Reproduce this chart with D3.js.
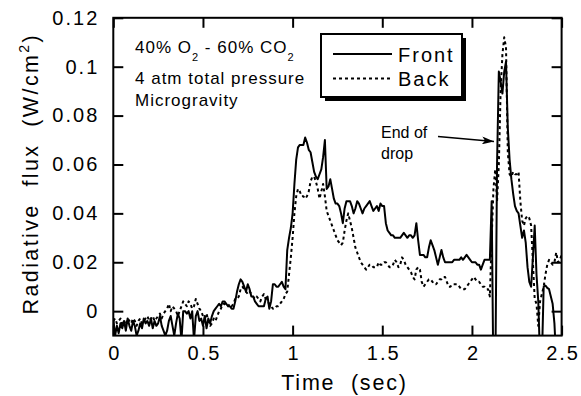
<!DOCTYPE html>
<html>
<head>
<meta charset="utf-8">
<script src="https://cdn.jsdelivr.net/npm/d3@7"></script>
<style>
  body { margin: 0; background: #fff; }
  svg text { font-family: "Liberation Sans", Arial, Helvetica, sans-serif; fill: #000; }
</style>
</head>
<body>
<div id="chart"></div>
<script>
// sampling grid of the recorded signals (sec)
const t0 = 0, dt = 0.01;

// radiative flux, W/cm2, one value per 0.01 s from 0 to 2.5 s
const front = [
  -0.003,-0.010,-0.006,-0.009,-0.005,-0.007,-0.004,-0.008,-0.003,-0.006,
  -0.008,-0.004,-0.006,-0.010,-0.008,-0.005,-0.007,-0.003,-0.005,-0.004,
  -0.006,-0.003,-0.007,-0.004,-0.006,-0.005,-0.002,-0.006,-0.008,-0.010,
  -0.008,-0.004,-0.002,-0.006,-0.010,-0.005,-0.001,-0.003,-0.012,0.000,
  0.000,-0.001,0.000,-0.003,0.000,-0.012,-0.002,0.000,-0.004,-0.003,
  -0.006,-0.002,-0.007,-0.003,-0.005,-0.002,0.000,0.001,0.002,0.003,
  0.002,0.004,0.004,0.003,0.002,0.002,0.001,0.001,0.004,0.008,
  0.011,0.013,0.012,0.010,0.008,0.011,0.009,0.006,0.006,0.004,
  0.003,0.002,0.002,0.002,0.002,0.005,0.006,0.001,0.004,0.011,
  0.011,0.010,0.010,0.011,0.012,0.010,0.009,0.025,0.030,0.034,
  0.040,0.052,0.062,0.067,0.068,0.068,0.068,0.071,0.069,0.066,
  0.065,0.061,0.057,0.055,0.054,0.056,0.058,0.063,0.070,0.050,
  0.051,0.054,0.050,0.046,0.044,0.044,0.043,0.040,0.036,0.042,
  0.045,0.045,0.045,0.043,0.040,0.042,0.045,0.044,0.042,0.040,
  0.042,0.043,0.044,0.045,0.043,0.041,0.042,0.043,0.041,0.044,
  0.043,0.043,0.036,0.033,0.032,0.031,0.031,0.030,0.030,0.030,
  0.030,0.031,0.032,0.031,0.030,0.031,0.031,0.030,0.031,0.036,
  0.029,0.023,0.023,0.023,0.022,0.022,0.026,0.029,0.027,0.025,
  0.022,0.019,0.022,0.025,0.022,0.020,0.020,0.020,0.020,0.020,
  0.021,0.021,0.021,0.021,0.022,0.021,0.022,0.023,0.022,0.021,
  0.020,0.020,0.020,0.019,0.019,0.017,0.019,0.021,0.021,0.021,
  0.021,0.045,-0.030,-0.030,0.060,0.098,0.094,0.089,0.098,0.102,
  0.075,0.062,0.054,0.048,0.043,0.041,0.040,0.035,0.030,0.033,
  0.028,0.018,0.012,0.010,0.022,0.035,0.015,0.004,-0.020,-0.020,
  0.010,0.0105,0.0095,0.009,0.006,0.003,-0.005,-0.020,-0.020,-0.020,-0.020
];
const back = [
  -0.004,-0.003,-0.005,-0.004,-0.003,-0.006,-0.004,-0.005,-0.003,-0.004,
  -0.005,-0.003,-0.004,-0.006,-0.004,-0.003,-0.005,-0.004,-0.003,-0.002,
  -0.004,-0.003,-0.002,-0.004,-0.003,-0.002,-0.001,-0.003,-0.001,0.000,
  0.001,0.003,0.000,0.002,0.001,0.000,-0.002,0.000,0.002,0.004,
  0.003,0.002,0.004,0.003,0.001,0.002,0.005,0.003,0.001,0.000,
  -0.002,-0.003,-0.001,-0.004,-0.006,-0.005,-0.003,-0.004,-0.002,0.000,
  0.001,0.003,0.003,0.002,0.002,0.003,0.002,0.003,0.005,0.005,
  0.006,0.009,0.010,0.009,0.008,0.007,0.008,0.007,0.006,0.005,
  0.006,0.005,0.004,0.006,0.007,0.005,0.004,0.003,0.002,0.001,
  0.001,0.002,0.002,0.003,0.004,0.005,0.007,0.008,0.015,0.022,
  0.030,0.040,0.047,0.050,0.049,0.047,0.047,0.046,0.047,0.049,
  0.053,0.055,0.055,0.053,0.050,0.046,0.049,0.052,0.047,0.041,
  0.039,0.037,0.035,0.033,0.031,0.029,0.028,0.027,0.028,0.033,
  0.037,0.040,0.037,0.034,0.030,0.026,0.024,0.022,0.020,0.019,
  0.018,0.017,0.018,0.019,0.019,0.018,0.018,0.018,0.020,0.019,
  0.019,0.020,0.020,0.019,0.018,0.018,0.019,0.021,0.020,0.018,
  0.019,0.022,0.021,0.019,0.018,0.017,0.016,0.014,0.013,0.017,
  0.018,0.017,0.012,0.010,0.011,0.012,0.013,0.013,0.012,0.011,
  0.011,0.012,0.013,0.013,0.014,0.014,0.012,0.010,0.010,0.011,
  0.011,0.011,0.011,0.010,0.009,0.009,0.009,0.010,0.011,0.012,
  0.013,0.014,0.013,0.012,0.012,0.011,0.010,0.010,0.009,0.009,
  0.006,0.030,0.050,0.058,0.045,0.060,0.090,0.105,0.112,0.108,
  0.065,0.056,0.055,0.057,0.056,0.056,0.057,0.045,0.037,0.035,
  0.038,0.039,0.038,0.035,0.020,0.005,0.003,-0.006,0.004,0.007,
  0.010,0.015,0.019,0.021,0.020,0.019,0.020,0.024,0.020,0.021,0.023
];

const seriesNames = ["Front", "Back"];
const xTicks = [0, 0.5, 1, 1.5, 2, 2.5];
const xTickLabels = ["0", "0.5", "1", "1.5", "2", "2.5"];
const yTicks = [0, 0.02, 0.04, 0.06, 0.08, 0.1, 0.12];
const yTickLabels = ["0", "0.02", "0.04", "0.06", "0.08", "0.1", "0.12"];

const width = 581, height = 396;
const plotLeft = 113.3, plotRight = 561.6, plotTop = 17.8, plotBottom = 335.6;

const x = d3.scaleLinear().domain([0, 2.5]).range([plotLeft, plotRight]);
const y = d3.scaleLinear().domain([-0.01, 0.12]).range([plotBottom, plotTop]);

const svg = d3.select("#chart").append("svg")
  .attr("width", width)
  .attr("height", height)
  .attr("viewBox", [0, 0, width, height]);

svg.append("clipPath").attr("id", "plot-clip")
  .append("rect")
  .attr("x", plotLeft).attr("y", plotTop)
  .attr("width", plotRight - plotLeft).attr("height", plotBottom - plotTop);

// lines
const line = d3.line()
  .x((d, i) => x(t0 + i * dt))
  .y((d) => y(d));

const lines = svg.append("g")
  .attr("clip-path", "url(#plot-clip)")
  .attr("fill", "none")
  .attr("stroke", "#000")
  .attr("stroke-linejoin", "round");

lines.append("path")
  .attr("d", line(back))
  .attr("stroke-width", 2)
  .attr("stroke-dasharray", "3,3");

lines.append("path")
  .attr("d", line(front))
  .attr("stroke-width", 2);

// axes, ticks pointing inward on all four sides
const tickStyle = (g) => {
  g.select(".domain").remove();
  g.selectAll(".tick line").attr("stroke", "#000").attr("stroke-width", 2);
  g.selectAll(".tick text")
    .attr("font-size", 20)
    .attr("letter-spacing", 2)
    .attr("fill", "#000");
};

svg.append("g")
  .attr("transform", `translate(0,${plotBottom})`)
  .call(d3.axisBottom(x).tickValues(xTicks)
    .tickFormat((d, i) => xTickLabels[i]).tickSize(-10).tickPadding(10))
  .call(tickStyle)
  .call((g) => g.selectAll(".tick text").attr("dx", 1));

svg.append("g")
  .attr("transform", `translate(0,${plotTop})`)
  .call(d3.axisTop(x).tickValues(xTicks).tickFormat("").tickSize(-10))
  .call(tickStyle);

svg.append("g")
  .attr("transform", `translate(${plotLeft},0)`)
  .call(d3.axisLeft(y).tickValues(yTicks)
    .tickFormat((d, i) => yTickLabels[i]).tickSize(-10).tickPadding(14))
  .call(tickStyle);

svg.append("g")
  .attr("transform", `translate(${plotRight},0)`)
  .call(d3.axisRight(y).tickValues(yTicks).tickFormat("").tickSize(-10))
  .call(tickStyle);

svg.append("rect")
  .attr("x", plotLeft).attr("y", plotTop)
  .attr("width", plotRight - plotLeft).attr("height", plotBottom - plotTop)
  .attr("fill", "none")
  .attr("stroke", "#000")
  .attr("stroke-width", 2);

// axis titles
svg.append("text")
  .attr("x", (plotLeft + plotRight) / 2 + 7)
  .attr("y", 390)
  .attr("text-anchor", "middle")
  .attr("font-size", 21.5)
  .attr("letter-spacing", 1.8)
  .style("white-space", "pre")
  .text("Time  (sec)");

const yTitle = svg.append("text")
  .attr("transform", `translate(38,${(plotTop + plotBottom) / 2 - 3}) rotate(-90)`)
  .attr("text-anchor", "middle")
  .attr("font-size", 21.5)
  .attr("letter-spacing", 2.4)
  .style("white-space", "pre");
yTitle.append("tspan").text("Radiative  flux  (W/cm");
yTitle.append("tspan").attr("font-size", 14).attr("dy", -9).text("2");
yTitle.append("tspan").attr("dy", 9).text(")");

// conditions note
const note = svg.append("g").attr("font-size", 17);
const n1 = note.append("text").attr("x", 135).attr("y", 53).attr("letter-spacing", 1);
n1.append("tspan").text("40% O");
n1.append("tspan").attr("font-size", 11).attr("dy", 8).text("2");
n1.append("tspan").attr("dy", -8).style("white-space", "pre").text(" - 60% CO");
n1.append("tspan").attr("font-size", 11).attr("dy", 8).text("2");
note.append("text").attr("x", 135).attr("y", 84).attr("letter-spacing", 1)
  .style("white-space", "pre").text("4 atm total pressure");
note.append("text").attr("x", 135).attr("y", 106).attr("letter-spacing", 1)
  .text("Microgravity");

// legend with drop shadow
const legend = svg.append("g");
legend.append("rect")
  .attr("x", 325).attr("y", 38).attr("width", 141).attr("height", 63)
  .attr("fill", "#000");
legend.append("rect")
  .attr("x", 321).attr("y", 34).attr("width", 141).attr("height", 63)
  .attr("fill", "#fff").attr("stroke", "#000").attr("stroke-width", 2);
seriesNames.forEach((name, i) => {
  const ly = 54 + i * 24.5;
  legend.append("line")
    .attr("x1", 333).attr("x2", 392).attr("y1", ly).attr("y2", ly)
    .attr("stroke", "#000").attr("stroke-width", 2)
    .attr("stroke-dasharray", i === 1 ? "3,3" : null);
  legend.append("text")
    .attr("x", 398).attr("y", ly + 7.5)
    .attr("font-size", 20).attr("letter-spacing", 2)
    .text(name);
});

// end of drop callout
svg.append("defs").append("marker")
  .attr("id", "arrow")
  .attr("viewBox", "0 0 12 8")
  .attr("refX", 12).attr("refY", 4)
  .attr("markerWidth", 12).attr("markerHeight", 8)
  .attr("markerUnits", "userSpaceOnUse")
  .attr("orient", "auto")
  .append("path").attr("d", "M0,0L12,4L0,8L3,4Z").attr("fill", "#000");

svg.append("line")
  .attr("x1", 438).attr("y1", 136.5).attr("x2", 494).attr("y2", 141.5)
  .attr("stroke", "#000").attr("stroke-width", 1.5)
  .attr("marker-end", "url(#arrow)");
svg.append("text").attr("x", 381).attr("y", 138).attr("font-size", 16).text("End of");
svg.append("text").attr("x", 381).attr("y", 159).attr("font-size", 16).text("drop");
</script>
</body>
</html>
